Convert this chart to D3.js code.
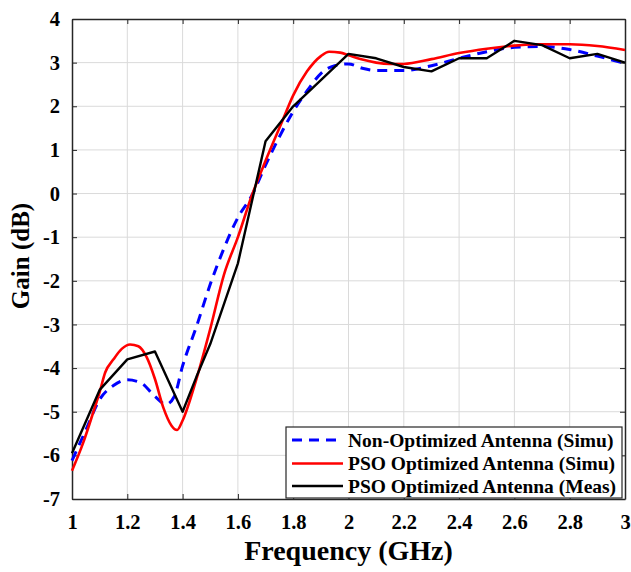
<!DOCTYPE html>
<html>
<head>
<meta charset="utf-8">
<script src="https://cdn.jsdelivr.net/npm/d3@7"></script>
<style>
  html, body { margin: 0; padding: 0; background: #fff; }
  svg { display: block; font-family: "Liberation Serif", "Times New Roman", serif; font-weight: bold; }
</style>
</head>
<body>
<div id="chart"></div>
<script>
// Gain vs frequency for the three antenna cases
const nonOptFreq = [1.00, 1.05, 1.10, 1.15, 1.20, 1.25, 1.30, 1.34, 1.37, 1.40, 1.45, 1.50, 1.55, 1.60, 1.65, 1.70, 1.75, 1.80, 1.85, 1.90, 1.95, 2.00, 2.05, 2.10, 2.20, 2.30, 2.40, 2.50, 2.60, 2.70, 2.80, 2.90, 3.00];
const nonOptGain = [-6.12, -5.42, -4.72, -4.40, -4.27, -4.34, -4.65, -4.83, -4.65, -3.95, -3.05, -2.08, -1.25, -0.55, -0.05, 0.65, 1.30, 1.88, 2.35, 2.75, 2.93, 2.97, 2.87, 2.82, 2.82, 2.93, 3.10, 3.25, 3.35, 3.37, 3.30, 3.15, 2.98];

const psoSimFreq = [1.00, 1.04, 1.08, 1.10, 1.12, 1.15, 1.18, 1.21, 1.24, 1.27, 1.30, 1.33, 1.36, 1.38, 1.40, 1.45, 1.50, 1.55, 1.60, 1.65, 1.70, 1.76, 1.80, 1.85, 1.90, 1.93, 1.97, 2.00, 2.05, 2.10, 2.15, 2.20, 2.30, 2.40, 2.50, 2.60, 2.70, 2.80, 2.90, 3.00];
const psoSimGain = [-6.35, -5.72, -4.95, -4.55, -4.10, -3.80, -3.56, -3.46, -3.50, -3.75, -4.25, -4.90, -5.32, -5.42, -5.20, -4.25, -3.10, -1.85, -1.00, -0.05, 0.75, 1.65, 2.25, 2.80, 3.15, 3.25, 3.23, 3.17, 3.07, 3.00, 2.97, 2.97, 3.08, 3.22, 3.32, 3.39, 3.42, 3.42, 3.38, 3.29];

const psoMeasFreq = [1.0, 1.1, 1.2, 1.3, 1.4, 1.45, 1.5, 1.6, 1.7, 1.8, 1.9, 2.0, 2.1, 2.2, 2.3, 2.4, 2.5, 2.6, 2.7, 2.8, 2.9, 3.0];
const psoMeasGain = [-5.95, -4.50, -3.80, -3.62, -5.00, -4.20, -3.45, -1.60, 1.20, 2.00, 2.60, 3.20, 3.10, 2.90, 2.80, 3.10, 3.10, 3.50, 3.40, 3.10, 3.20, 3.00];

const xTicks = [1, 1.2, 1.4, 1.6, 1.8, 2, 2.2, 2.4, 2.6, 2.8, 3];
const yTicks = [-7, -6, -5, -4, -3, -2, -1, 0, 1, 2, 3, 4];

const seriesNames = ["Non-Optimized Antenna (Simu)", "PSO Optimized Antenna (Simu)", "PSO Optimized Antenna (Meas)"];

const W = 631, H = 572;
const mLeft = 72, mRight = 625, mTop = 19, mBottom = 499;

const svg = d3.select("#chart").append("svg").attr("width", W).attr("height", H);

const x = d3.scaleLinear().domain([1, 3]).range([mLeft, mRight]);
const y = d3.scaleLinear().domain([-7, 4]).range([mBottom, mTop]);

// grid
const grid = svg.append("g").attr("stroke", "#dadada").attr("stroke-width", 1);
xTicks.slice(1, -1).forEach(t => grid.append("line").attr("x1", x(t)).attr("x2", x(t)).attr("y1", mTop).attr("y2", mBottom));
yTicks.slice(1, -1).forEach(t => grid.append("line").attr("y1", y(t)).attr("y2", y(t)).attr("x1", mLeft).attr("x2", mRight));

// axes with inward ticks on all four sides
const tickLen = 5;
const fmt = d => String(d);
svg.append("g").attr("transform", `translate(0,${mBottom})`)
  .call(d3.axisBottom(x).tickValues(xTicks).tickSizeInner(-tickLen).tickSizeOuter(0).tickPadding(15).tickFormat(fmt));
svg.append("g").attr("transform", `translate(0,${mTop})`)
  .call(d3.axisTop(x).tickValues(xTicks).tickSizeInner(-tickLen).tickSizeOuter(0).tickFormat(""));
svg.append("g").attr("transform", `translate(${mLeft},0)`)
  .call(d3.axisLeft(y).tickValues(yTicks).tickSizeInner(-tickLen).tickSizeOuter(0).tickPadding(12).tickFormat(fmt));
svg.append("g").attr("transform", `translate(${mRight},0)`)
  .call(d3.axisRight(y).tickValues(yTicks).tickSizeInner(-tickLen).tickSizeOuter(0).tickFormat(""));

svg.selectAll(".domain").attr("stroke", "#262626").attr("stroke-width", 1.5);
svg.selectAll(".tick line").attr("stroke", "#262626").attr("stroke-width", 1);
svg.selectAll(".tick text").attr("fill", "#000").style("font-size", "20.5px")
  .style("font-family", "'Liberation Serif', 'Times New Roman', serif").style("font-weight", "bold");

// curves
const plot = svg.append("g");
const lineGen = d3.line().x(d => x(d[0])).y(d => y(d[1]));
const smoothGen = d3.line().x(d => x(d[0])).y(d => y(d[1])).curve(d3.curveMonotoneX);

const series = [
  { name: seriesNames[0], pts: d3.zip(nonOptFreq, nonOptGain), color: "#0000ff", width: 3, dash: "10,7", gen: smoothGen },
  { name: seriesNames[1], pts: d3.zip(psoSimFreq, psoSimGain), color: "#ff0000", width: 2.6, dash: null, gen: smoothGen },
  { name: seriesNames[2], pts: d3.zip(psoMeasFreq, psoMeasGain), color: "#000000", width: 2.4, dash: null, gen: lineGen }
];

series.forEach(s => {
  plot.append("path").attr("d", s.gen(s.pts)).attr("fill", "none")
    .attr("stroke", s.color).attr("stroke-width", s.width)
    .attr("stroke-dasharray", s.dash).attr("stroke-linejoin", "round");
});

// legend
const lg = svg.append("g");
const lx0 = 286, ly0 = 427, lx1 = 622, ly1 = 498;
lg.append("rect").attr("x", lx0).attr("y", ly0).attr("width", lx1 - lx0).attr("height", ly1 - ly0)
  .attr("fill", "#fff").attr("stroke", "#262626").attr("stroke-width", 1.2);
const rowsY = [440, 463.5, 486];
series.forEach((s, i) => {
  lg.append("line").attr("x1", 292).attr("x2", 343).attr("y1", rowsY[i]).attr("y2", rowsY[i])
    .attr("stroke", s.color).attr("stroke-width", s.width).attr("stroke-dasharray", s.dash);
  lg.append("text").attr("x", 348).attr("y", rowsY[i]).attr("dy", "0.35em")
    .style("font-size", "19.5px").attr("fill", "#000").text(s.name);
});

// axis titles
svg.append("text").attr("x", (mLeft + mRight) / 2).attr("y", 560).attr("text-anchor", "middle")
  .style("font-size", "28px").attr("fill", "#000").text("Frequency (GHz)");
svg.append("text").attr("transform", `translate(29,${(mTop + mBottom) / 2 - 3}) rotate(-90)`)
  .attr("text-anchor", "middle").style("font-size", "25px").attr("fill", "#000").text("Gain (dB)");
</script>
</body>
</html>
